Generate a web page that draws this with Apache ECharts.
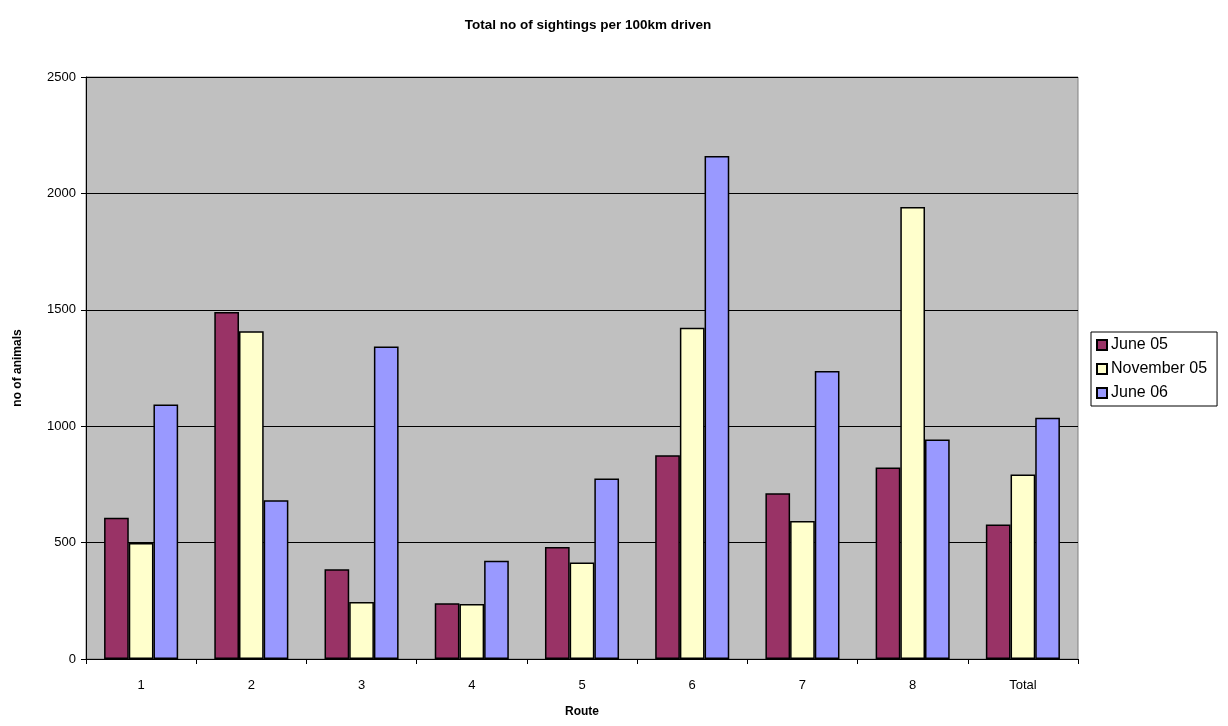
<!DOCTYPE html>
<html>
<head>
<meta charset="utf-8">
<script src="https://cdn.jsdelivr.net/npm/echarts@6/dist/echarts.min.js"></script>
<style>
  html, body { margin: 0; padding: 0; background: #ffffff; }
  #chart { width: 1228px; height: 726px; }
</style>
</head>
<body>
<div id="chart"></div>
<script>
// Routes along the x axis
const routes = ['1', '2', '3', '4', '5', '6', '7', '8', 'Total'];

// Sightings per 100 km for each survey
const june05 = [607, 1491, 385, 239, 481, 875, 712, 823, 578];
const november05 = [498, 1408, 245, 236, 415, 1423, 593, 1942, 792];
const june06 = [1093, 682, 1342, 422, 775, 2161, 1237, 943, 1036];

// Value axis ticks
const yTicks = [0, 500, 1000, 1500, 2000, 2500];

const font = '"Liberation Sans", Arial, sans-serif';

const chart = echarts.init(document.getElementById('chart'));

function barSeries(name, data, color) {
  return {
    name: name,
    type: 'bar',
    data: data,
    barWidth: '22.4%',
    barGap: '0%',
    itemStyle: { color: color, borderColor: '#000000', borderWidth: 1.5 },
    emphasis: { disabled: true }
  };
}

chart.setOption({
  animation: false,
  backgroundColor: '#ffffff',
  title: {
    text: 'Total no of sightings per 100km driven',
    left: 583,
    textAlign: 'center',
    top: 13,
    textStyle: { fontFamily: font, fontSize: 13.5, fontWeight: 'bold', color: '#000000' }
  },
  legend: {
    orient: 'vertical',
    left: 1091,
    top: 332,
    padding: [5, 10, 5, 5],
    itemGap: 8,
    itemWidth: 10,
    itemHeight: 10,
    icon: 'rect',
    backgroundColor: '#ffffff',
    borderColor: '#000000',
    borderWidth: 1,
    borderRadius: 0,
    textStyle: { fontFamily: font, fontSize: 16, lineHeight: 16, color: '#000000', padding: [0, 0, 0, -1] },
    data: ['June 05', 'November 05', 'June 06']
  },
  grid: {
    left: 86,
    right: 150,
    top: 77,
    bottom: 67,
    show: true,
    backgroundColor: '#c0c0c0',
    borderColor: '#808080',
    borderWidth: 1,
    containLabel: false
  },
  xAxis: {
    type: 'category',
    data: routes,
    name: 'Route',
    nameLocation: 'middle',
    nameGap: 47,
    nameTextStyle: { fontFamily: font, fontSize: 12, fontWeight: 'bold', color: '#000000' },
    axisLine: { show: true, lineStyle: { color: '#000000', width: 1 } },
    axisTick: { show: true, length: 5, alignWithLabel: false, lineStyle: { color: '#000000' } },
    axisLabel: { fontFamily: font, fontSize: 13, color: '#000000', margin: 20 },
    splitLine: { show: false }
  },
  yAxis: {
    type: 'value',
    min: yTicks[0],
    max: yTicks[yTicks.length - 1],
    interval: 500,
    name: 'no of animals',
    nameLocation: 'middle',
    nameRotate: 90,
    nameGap: 62,
    nameTextStyle: { fontFamily: font, fontSize: 12, fontWeight: 'bold', color: '#000000' },
    axisLine: { show: true, lineStyle: { color: '#000000', width: 1 } },
    axisTick: { show: true, length: 5, lineStyle: { color: '#000000' } },
    axisLabel: {
      fontFamily: font, fontSize: 13, color: '#000000', margin: 10,
      formatter: function (v) { return String(v); }
    },
    splitLine: { show: true, lineStyle: { color: '#000000', width: 1 } }
  },
  series: [
    barSeries('June 05', june05, '#993366'),
    barSeries('November 05', november05, '#ffffcc'),
    barSeries('June 06', june06, '#9999ff')
  ]
});
</script>
</body>
</html>
